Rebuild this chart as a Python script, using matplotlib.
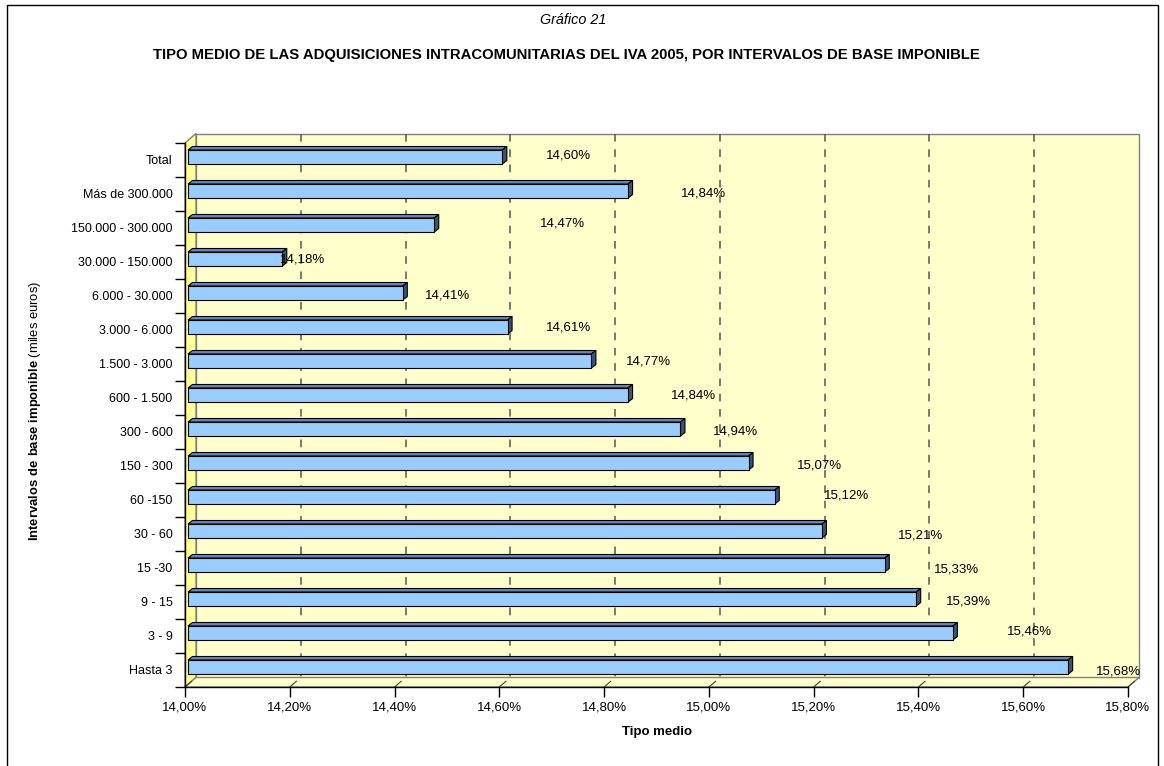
import matplotlib
matplotlib.use("Agg")
from matplotlib import pyplot as plt
from matplotlib.patches import Rectangle, Polygon
import numpy as np

plt.rcParams['font.family'] = ['Liberation Sans', 'DejaVu Sans']
plt.rcParams['mathtext.fontset'] = 'custom'
plt.rcParams['mathtext.rm'] = 'Liberation Sans'
plt.rcParams['mathtext.bf'] = 'Liberation Sans:bold'

# data (top to bottom as in the chart)
categories = ["Total", "Más de 300.000", "150.000 - 300.000", "30.000 - 150.000",
              "6.000 - 30.000", "3.000 - 6.000", "1.500 - 3.000", "600 - 1.500",
              "300 - 600", "150 - 300", "60 -150", "30 - 60", "15 -30", "9 - 15",
              "3 - 9", "Hasta 3"]
values = [14.60, 14.84, 14.47, 14.18, 14.41, 14.61, 14.77, 14.84,
          14.94, 15.07, 15.12, 15.21, 15.33, 15.39, 15.46, 15.68]
value_labels = ["14,60%", "14,84%", "14,47%", "14,18%", "14,41%", "14,61%", "14,77%", "14,84%",
                "14,94%", "15,07%", "15,12%", "15,21%", "15,33%", "15,39%", "15,46%", "15,68%"]
x_ticks = [14.0, 14.2, 14.4, 14.6, 14.8, 15.0, 15.2, 15.4, 15.6, 15.8]
x_ticklabels = ["14,00%", "14,20%", "14,40%", "14,60%", "14,80%", "15,00%",
                "15,20%", "15,40%", "15,60%", "15,80%"]

# where Excel dropped the data labels (pixels right of / above the bar end)
label_dx_px = [69, 78, 131, 23, 48, 64, 60, 68, 58, 74, 75, 102, 75, 55, 80, 53]
label_dy_px = [4, 0, 4, 2, 1, 3, 2, 2, 1, 0, 4, -2, -1, 1, 5, -1]

W, H = 1164, 766
fig = plt.figure(figsize=(W / 100, H / 100), dpi=100)
ax_l, ax_r, ax_t, ax_b = 185, 1128, 143, 687
ax = fig.add_axes([ax_l / W, (H - ax_b) / H, (ax_r - ax_l) / W, (ax_b - ax_t) / H])
xmin, xmax = 14.0, 15.8
n = len(categories)
ax.set_xlim(xmin, xmax)
ax.set_ylim(n - 0.5, -0.5)
ax.patch.set_alpha(0)

# data units per pixel
px_x = (xmax - xmin) / (ax_r - ax_l)
px_y = n / (ax_b - ax_t)

# 3d depth of the walls
dx, dy = 11 * px_x, -9.5 * px_y
y_top, y_bot = -0.5, n - 0.5
wall_kw = dict(edgecolor='#808080', linewidth=1, clip_on=False, zorder=0)
ax.add_patch(Rectangle((xmin + dx, y_top + dy), xmax - xmin, n, facecolor='#FFFFCC', **wall_kw))
ax.add_patch(Polygon([(xmin, y_top), (xmin + dx, y_top + dy), (xmin + dx, y_bot + dy), (xmin, y_bot)],
                     facecolor='#FFFF99', **wall_kw))
ax.add_patch(Polygon([(xmin, y_bot), (xmax, y_bot), (xmax + dx, y_bot + dy), (xmin + dx, y_bot + dy)],
                     facecolor='#FFFFCC', **wall_kw))

# dashed gridlines on the back wall, little marks on the floor
for t in x_ticks[1:-1]:
    ax.plot([t + dx, t + dx], [y_top + dy, y_bot + dy], color='#555555', lw=1.1,
            linestyle=(0, (5, 5)), clip_on=False, zorder=1)
for t in x_ticks:
    ax.plot([t, t + 0.6 * dx], [y_bot, y_bot + 0.6 * dy], color='#404040', lw=0.8,
            clip_on=False, zorder=1)

# bars
bh = 14 * px_y
ox, oy = 3 * px_x, -3 * px_y
ddx, ddy = 4.5 * px_x, -3.5 * px_y
bar_kw = dict(edgecolor='black', linewidth=0.8, clip_on=False, zorder=3, joinstyle='miter')
for i, v in enumerate(values):
    x0, x1 = xmin + ox, v + ox
    yt, yb = i - bh / 2 + oy, i + bh / 2 + oy
    ax.add_patch(Polygon([(x0, yt), (x1, yt), (x1 + ddx, yt + ddy), (x0 + ddx, yt + ddy)],
                         facecolor='#6488BA', **bar_kw))
    ax.add_patch(Polygon([(x1, yt), (x1 + ddx, yt + ddy), (x1 + ddx, yb + ddy), (x1, yb)],
                         facecolor='#3A5478', **bar_kw))
    ax.add_patch(Rectangle((x0, yt), x1 - x0, bh, facecolor='#99CCFF', **bar_kw))
    ax.text(v + label_dx_px[i] * px_x, i - label_dy_px[i] * px_y, value_labels[i],
            ha='center', va='center', fontsize=9.5, color='black', zorder=4)

# axes
for s in ['top', 'right']:
    ax.spines[s].set_visible(False)
for s in ['left', 'bottom']:
    ax.spines[s].set_color('black')
    ax.spines[s].set_linewidth(1)
    ax.spines[s].set_zorder(2)
ax.set_xticks(x_ticks)
ax.set_xticklabels(x_ticklabels)
ax.tick_params(axis='x', direction='out', length=7.2, width=1, pad=3, labelsize=9.5)
ax.set_yticks(np.arange(n))
ax.set_yticklabels(categories)
ax.set_yticks(np.arange(n + 1) - 0.5, minor=True)
ax.tick_params(axis='y', which='major', length=0, pad=9, labelsize=9)
ax.tick_params(axis='y', which='minor', direction='out', length=7.2, width=1)

ax.set_xlabel('Tipo medio', fontsize=9.5, fontweight='bold', labelpad=9)
fig.text(35 / W, 1 - 411 / H, r'$\mathbf{Intervalos\ de\ base\ imponible}$ (miles euros)',
         rotation=90, ha='center', va='center', fontsize=9.4)

fig.text(573 / W, 1 - 20 / H, 'Gráfico 21', ha='center', va='center', fontsize=10.4, style='italic')
fig.text(566 / W, 1 - 55 / H,
         'TIPO MEDIO DE LAS ADQUISICIONES INTRACOMUNITARIAS DEL IVA 2005, POR INTERVALOS DE BASE IMPONIBLE',
         ha='center', va='center', fontsize=10.7, fontweight='bold')

# frame around the chart area
fig.patches.append(Rectangle((7 / W, -0.05), (1158 - 7) / W, 1.05 - 5 / H, transform=fig.transFigure,
                             fill=False, edgecolor='black', linewidth=1))

fig.savefig('out.png', dpi=100)
